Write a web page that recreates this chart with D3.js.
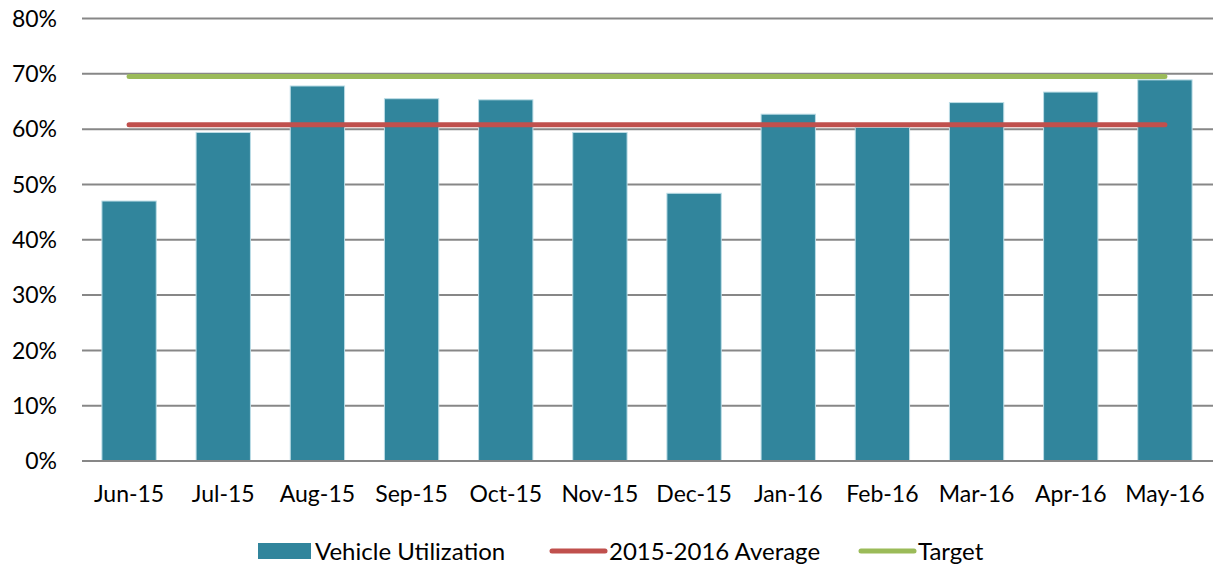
<!DOCTYPE html>
<html>
<head>
<meta charset="utf-8">
<script src="https://cdn.jsdelivr.net/npm/d3@7"></script>
<style>
  body { margin: 0; background: #fff; }
  svg text { font-family: Lato, "Open Sans", sans-serif; fill: #000; }
</style>
</head>
<body>
<div id="chart"></div>
<script>
// ----- dati
var months = ["Jun-15", "Jul-15", "Aug-15", "Sep-15", "Oct-15", "Nov-15",
              "Dec-15", "Jan-16", "Feb-16", "Mar-16", "Apr-16", "May-16"];
var utilization = [0.470, 0.594, 0.678, 0.655, 0.653, 0.594,
                   0.484, 0.627, 0.603, 0.648, 0.667, 0.689];
var averageValue = 0.608;
var targetValue = 0.695;
var yTicks = [0, 0.1, 0.2, 0.3, 0.4, 0.5, 0.6, 0.7, 0.8];
var legendItems = ["Vehicle Utilization", "2015-2016 Average", "Target"];

// ----- dimensioni (l'area del grafico esce a destra, come nell'originale)
var w = 1213;
var h = 567;
var plotLeft = 82, plotRight = 1212, plotTop = 18.5, plotBottom = 461;

var barColor = "#31859c";
var avgColor = "#c0504d";
var targetColor = "#9bbb59";
var gridColor = "#878787";

var svg = d3.select("#chart").append("svg")
    .attr("width", w)
    .attr("height", h);

var x = d3.scaleBand()
    .domain(months)
    .range([plotLeft, plotRight])
    .paddingInner(0.423)
    .paddingOuter(0.2115);

var y = d3.scaleLinear()
    .domain([0, 0.8])
    .range([plotBottom, plotTop]);

// ----- griglia
svg.append("g").selectAll("line.grid").data(yTicks)
    .enter().append("line")
    .attr("class", "grid")
    .attr("x1", plotLeft)
    .attr("x2", w)
    .attr("y1", d => y(d))
    .attr("y2", d => y(d))
    .attr("stroke", gridColor)
    .attr("stroke-width", 2);

// ----- etichette asse y
svg.append("g").selectAll("text").data(yTicks)
    .enter().append("text")
    .attr("x", 57)
    .attr("y", d => y(d))
    .attr("dy", "0.36em")
    .attr("text-anchor", "end")
    .attr("font-size", 23)
    .text(d3.format(".0%"));

// ----- barre
svg.append("g").selectAll("rect").data(utilization)
    .enter().append("rect")
    .attr("x", (d, i) => x(months[i]))
    .attr("y", d => y(d))
    .attr("width", x.bandwidth())
    .attr("height", d => y(0) - y(d))
    .attr("fill", barColor)
    .attr("stroke", "#bcdde6")
    .attr("stroke-width", 1);

// ----- asse x (linea di base sopra le barre)
svg.append("line")
    .attr("x1", plotLeft).attr("x2", w)
    .attr("y1", y(0)).attr("y2", y(0))
    .attr("stroke", gridColor)
    .attr("stroke-width", 2);

svg.append("g").selectAll("text").data(months)
    .enter().append("text")
    .attr("x", d => x(d) + x.bandwidth() / 2)
    .attr("y", 502)
    .attr("text-anchor", "middle")
    .attr("font-size", 23)
    .text(d => d);

// ----- linee media e target
var cx = d => x(d) + x.bandwidth() / 2;
var line = d3.line().x(d => cx(d[0])).y(d => y(d[1]));

svg.append("path")
    .datum(months.map(m => [m, averageValue]))
    .attr("d", line)
    .attr("fill", "none")
    .attr("stroke", avgColor)
    .attr("stroke-width", 5)
    .attr("stroke-linecap", "round");

svg.append("path")
    .datum(months.map(m => [m, targetValue]))
    .attr("d", line)
    .attr("fill", "none")
    .attr("stroke", targetColor)
    .attr("stroke-width", 5)
    .attr("stroke-linecap", "round");

// ----- legenda
var legend = svg.append("g");
var ly = 551;

legend.append("rect")
    .attr("x", 258).attr("y", ly - 8)
    .attr("width", 53).attr("height", 16)
    .attr("fill", barColor);
legend.append("text")
    .attr("x", 315).attr("y", ly).attr("dy", "0.36em")
    .attr("font-size", 24).text(legendItems[0]);

legend.append("line")
    .attr("x1", 552).attr("x2", 605)
    .attr("y1", ly).attr("y2", ly)
    .attr("stroke", avgColor).attr("stroke-width", 5)
    .attr("stroke-linecap", "round");
legend.append("text")
    .attr("x", 609).attr("y", ly).attr("dy", "0.36em")
    .attr("font-size", 24).text(legendItems[1]);

legend.append("line")
    .attr("x1", 861).attr("x2", 914)
    .attr("y1", ly).attr("y2", ly)
    .attr("stroke", targetColor).attr("stroke-width", 5)
    .attr("stroke-linecap", "round");
legend.append("text")
    .attr("x", 918).attr("y", ly).attr("dy", "0.36em")
    .attr("font-size", 24).text(legendItems[2]);
</script>
</body>
</html>
